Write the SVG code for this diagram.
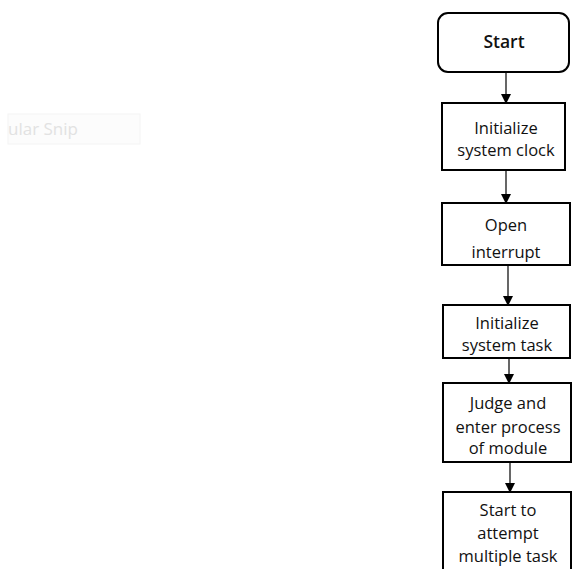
<svg xmlns="http://www.w3.org/2000/svg" width="573" height="569" viewBox="0 0 573 569">
<style>
.box{fill:#ffffff;stroke:#000000;stroke-width:2}
.t{font-family:"Open Sans","Liberation Sans",sans-serif;font-size:16.5px;fill:#111111;text-anchor:middle}
.c{stroke:#000000;stroke-width:1.2;fill:none}
</style>
<defs>
<marker id="ah" markerWidth="10" markerHeight="10" refX="9" refY="5" orient="auto" markerUnits="userSpaceOnUse">
<path d="M0,0 L10,5 L0,10 Z" fill="#000000"/>
</marker>
</defs>
<rect width="573" height="569" fill="#ffffff"/>
<g id="ghost">
<rect x="8" y="114" width="132" height="30" fill="#fcfcfc" stroke="#f4f4f4" stroke-width="1"/>
<text x="8" y="135" font-family="Open Sans, Liberation Sans, sans-serif" font-size="17" fill="#e2e2e2">ular Snip</text>
</g>
<g id="connectors">
<line class="c" x1="506" y1="72" x2="506" y2="103" marker-end="url(#ah)"/>
<line class="c" x1="506" y1="170" x2="506" y2="203" marker-end="url(#ah)"/>
<line class="c" x1="508" y1="265" x2="508" y2="305" marker-end="url(#ah)"/>
<line class="c" x1="509" y1="358" x2="509" y2="383" marker-end="url(#ah)"/>
<line class="c" x1="510" y1="462" x2="510" y2="492" marker-end="url(#ah)"/>
</g>
<g id="n1">
<rect class="box" x="438" y="13" width="131" height="59" rx="10" ry="10"/>
<text class="t" x="504" y="48" style="font-size:17.5px;font-weight:600">Start</text>
</g>
<g id="n2">
<rect class="box" x="442" y="103" width="123" height="67"/>
<text class="t" x="506" y="134">Initialize</text>
<text class="t" x="506" y="156">system clock</text>
</g>
<g id="n3">
<rect class="box" x="442" y="203" width="128" height="62"/>
<text class="t" x="506" y="231">Open</text>
<text class="t" x="506" y="258">interrupt</text>
</g>
<g id="n4">
<rect class="box" x="443" y="305" width="127" height="53"/>
<text class="t" x="507" y="329">Initialize</text>
<text class="t" x="507" y="351">system task</text>
</g>
<g id="n5">
<rect class="box" x="443" y="383" width="128" height="79"/>
<text class="t" x="508" y="409">Judge and</text>
<text class="t" x="508" y="433">enter process</text>
<text class="t" x="508" y="454">of module</text>
</g>
<g id="n6">
<rect class="box" x="443" y="492" width="128" height="82"/>
<text class="t" x="508" y="516">Start to</text>
<text class="t" x="508" y="539">attempt</text>
<text class="t" x="508" y="562">multiple task</text>
</g>
</svg>
